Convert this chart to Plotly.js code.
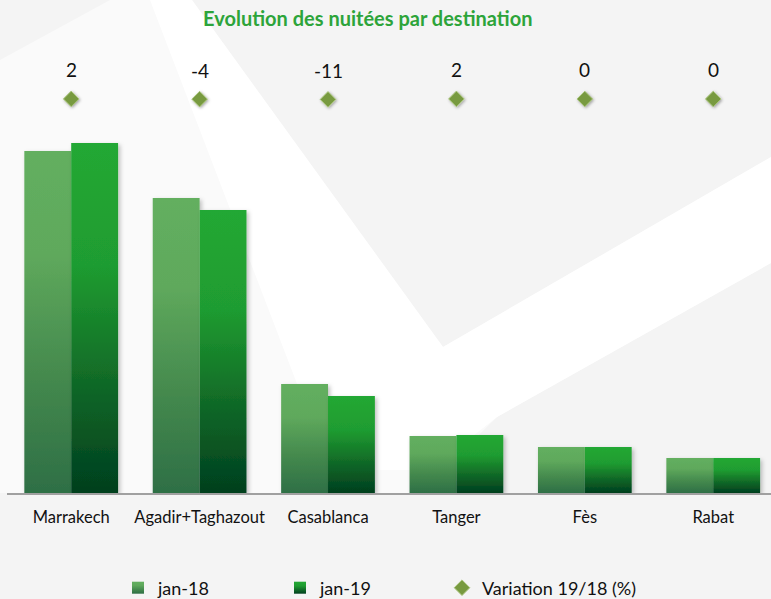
<!DOCTYPE html>
<html>
<head>
<meta charset="utf-8">
<script src="https://cdn.plot.ly/plotly-3.0.1.min.js"></script>
<style>
html,body{margin:0;padding:0;background:#F4F4F4;overflow:hidden;}
#chart{width:771px;height:607px;}
</style>
</head>
<body>
<div id="chart"></div>
<script>
// ---- data ----
var categories = ["Marrakech", "Agadir+Taghazout", "Casablanca", "Tanger", "Fès", "Rabat"];
var jan18 = [684, 590, 218, 114, 92, 70];
var jan19 = [700, 566, 194, 116, 92, 70];
var variation = [2, -4, -11, 2, 0, 0];
var seriesNames = ["jan-18", "jan-19", "Variation 19/18 (%)"];
var chartTitle = "Evolution des nuitées par destination";

// ---- layout helpers (pixel -> paper) ----
var FH = 607, ML = 7, MT = 40, PW = 764, PH = 453;
function px(x){ return (x - ML) / PW; }
function py(y){ return (MT + PH - y) / PH; }
function poly(pts){
  return pts.map(function(p, i){ return (i ? 'L' : 'M') + px(p[0]) + ',' + py(p[1]); }).join(' ') + ' Z';
}

var traces = [
  {type: 'bar', name: seriesNames[0], x: categories, y: jan18,
   marker: {color: '#4E9556'}},
  {type: 'bar', name: seriesNames[1], x: categories, y: jan19,
   marker: {color: '#15842B'}},
  {type: 'scatter', mode: 'markers', name: seriesNames[2], x: categories, y: variation,
   yaxis: 'y2',
   marker: {symbol: 'diamond', size: 12, color: '#789A40', line: {color: '#A9C47C', width: 1}}}
];

var annotations = categories.map(function(c, i){
  return {x: c, y: variation[i], xref: 'x', yref: 'y2', text: String(variation[i]),
          showarrow: false, yshift: 29, font: {family: 'Lato, sans-serif', size: 19, color: '#111'}};
});

var shapes = [
  {type: 'path', xref: 'paper', yref: 'paper', layer: 'below', line: {width: 0}, fillcolor: '#FAFAFA',
   path: poly([[0,60],[110,0],[192,0],[443,347],[771,157],[771,263],[497,417],[420,493],[0,493]])},
  {type: 'path', xref: 'paper', yref: 'paper', layer: 'below', line: {width: 0}, fillcolor: '#FFFFFF',
   path: poly([[150,0],[192,0],[443,347],[771,157],[771,263],[497,417],[430,470],[330,470]])}
];

var layout = {
  width: 771, height: FH,
  margin: {l: ML, r: 0, t: MT, b: FH - MT - PH, pad: 0},
  paper_bgcolor: '#F4F4F4',
  plot_bgcolor: 'rgba(0,0,0,0)',
  title: {text: chartTitle, x: 0.477, xanchor: 'center', y: 1 - 19 / FH, yanchor: 'middle',
          font: {family: 'Lato, sans-serif', size: 20, color: '#2DA43A', weight: 'bold'}},
  barmode: 'group',
  bargap: 0.27,
  bargroupgap: 0,
  showlegend: true,
  legend: {orientation: 'h', x: px(118), xanchor: 'left', y: py(588), yanchor: 'middle',
           entrywidth: 117, entrywidthmode: 'pixels',
           font: {family: 'Lato, sans-serif', size: 18, color: '#111'}, bgcolor: 'rgba(0,0,0,0)'},
  xaxis: {type: 'category', range: [-0.5, 5.45], showgrid: false, zeroline: false, automargin: false,
          showline: true, linecolor: '#A0A0A0', linewidth: 2, ticks: '', ticklabelstandoff: 8,
          tickfont: {family: 'Lato, sans-serif', size: 16.5, color: '#111'}, fixedrange: true},
  yaxis: {range: [0, 906], showgrid: false, zeroline: false, showticklabels: false, showline: false, fixedrange: true},
  yaxis2: {range: [-10000, 1497], overlaying: 'y', side: 'right', showgrid: false, zeroline: false,
           showticklabels: false, showline: false, fixedrange: true},
  annotations: annotations,
  shapes: shapes,
  hovermode: false
};

Plotly.newPlot('chart', traces, layout, {displayModeBar: false, staticPlot: true}).then(function(){
  var svg = document.querySelector('#chart .main-svg');
  var NS = 'http://www.w3.org/2000/svg';
  var defs = svg.querySelector('defs') || svg.insertBefore(document.createElementNS(NS, 'defs'), svg.firstChild);
  function grad(id, stops){
    var g = document.createElementNS(NS, 'linearGradient');
    g.setAttribute('id', id); g.setAttribute('x1', '0'); g.setAttribute('y1', '0');
    g.setAttribute('x2', '0'); g.setAttribute('y2', '1');
    stops.forEach(function(s){
      var st = document.createElementNS(NS, 'stop');
      st.setAttribute('offset', s[0]); st.setAttribute('stop-color', s[1]);
      g.appendChild(st);
    });
    defs.appendChild(g);
  }
  grad('g18', [[0, '#63AF5F'], [0.3, '#5FA95C'], [0.65, '#458A4E'], [1, '#2E6F45']]);
  grad('g19', [[0, '#23A834'], [0.35, '#1F9C30'], [0.7, '#106727'], [1, '#003F1E']]);
  function shadow(id, d, sd, op){
    var f = document.createElementNS(NS, 'filter');
    f.setAttribute('id', id); f.setAttribute('x', '-50%'); f.setAttribute('y', '-50%');
    f.setAttribute('width', '200%'); f.setAttribute('height', '200%');
    f.innerHTML = '<feDropShadow dx="' + d + '" dy="' + d + '" stdDeviation="' + sd + '" flood-color="#000" flood-opacity="' + op + '"/>';
    defs.appendChild(f);
  }
  shadow('shd', 2, 2, 0.25);
  shadow('shdm', 1, 1.5, 0.35);
  var ids = ['g18', 'g19'];
  document.querySelectorAll('#chart .barlayer .trace').forEach(function(t, i){
    t.querySelectorAll('path').forEach(function(p){
      p.style.fill = 'url(#' + ids[i] + ')';
      p.style.filter = 'url(#shd)';
    });
  });
  document.querySelectorAll('#chart .scatterlayer .point').forEach(function(p){
    p.style.filter = 'url(#shdm)';
  });
  document.querySelectorAll('#chart .legend .traces').forEach(function(t, i){
    if (i < 2) t.querySelectorAll('.legendpoints path').forEach(function(p){ p.style.fill = 'url(#' + ids[i] + ')'; });
  });
  document.querySelectorAll('#chart .legend [clip-path]').forEach(function(el){
    el.removeAttribute('clip-path');
  });
});
</script>
</body>
</html>
